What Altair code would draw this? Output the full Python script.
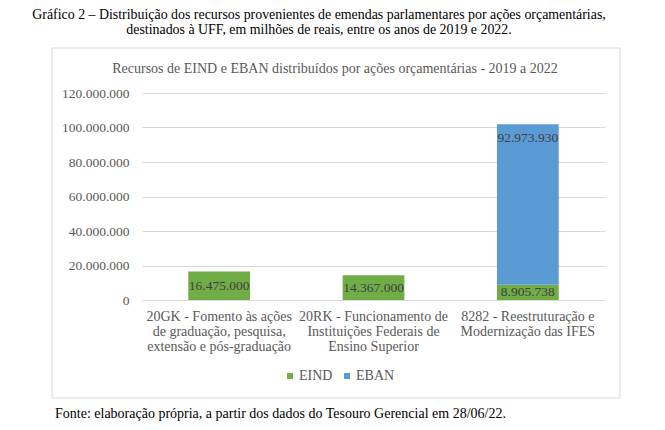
import altair as alt
import pandas as pd

FONT = "Liberation Serif"
GRAY = "#595959"
GRID = "#d9d9d9"

caption_lines = [
    "Gráfico 2 – Distribuição dos recursos provenientes de emendas parlamentares por ações orçamentárias,",
    "destinados à UFF, em milhões de reais, entre os anos de 2019 e 2022.",
]
chart_title = "Recursos de EIND e EBAN distribuídos por ações orçamentárias - 2019 a 2022"
footer = "Fonte: elaboração própria, a partir dos dados do Tesouro Gerencial em 28/06/22."

categories = [
    "20GK  - Fomento às ações|de graduação, pesquisa,|extensão e pós-graduação",
    "20RK - Funcionamento de|Instituições Federais de|Ensino Superior",
    "8282 - Reestruturação e|Modernização das IFES",
]
series = ["EIND", "EBAN"]
colors = ["#70AD47", "#5B9BD5"]
eind_values = [16475000, 14367000, 8905738]
eban_values = [0, 0, 92973930]
y_ticks = [0, 20000000, 40000000, 60000000, 80000000, 100000000, 120000000]

rows = []
for c, a, b in zip(categories, eind_values, eban_values):
    for i, (s, v) in enumerate(zip(series, [a, b])):
        if v > 0:
            rows.append({"cat": c, "series": s, "value": v, "ord": i})
df = pd.DataFrame(rows)

x_enc = alt.X(
    "cat:N",
    sort=categories,
    scale=alt.Scale(paddingInner=0.6, paddingOuter=0.3),
    axis=alt.Axis(
        title=None,
        labelExpr="split(datum.label, '|')",
        labelAngle=0,
        domain=False,
        ticks=False,
        labelPadding=9,
        labelFont=FONT,
        labelFontSize=14,
        labelColor=GRAY,
        labelLineHeight=15,
        labelLimit=300,
        labelOverlap=False,
    ),
)

y_scale = alt.Scale(domain=[0, 120000000], nice=False)
y_axis = alt.Axis(
    values=y_ticks,
    format=",d",
    title=None,
    domain=False,
    ticks=False,
    labelPadding=13,
    labelFont=FONT,
    labelFontSize=13.5,
    labelColor=GRAY,
    labelOverlap=False,
    gridColor=GRID,
    gridWidth=1,
)

bars = alt.Chart(df).mark_bar().encode(
    x=x_enc,
    y=alt.Y("value:Q", stack="zero", scale=y_scale, axis=y_axis),
    color=alt.Color(
        "series:N",
        sort=series,
        scale=alt.Scale(domain=series, range=colors),
        legend=alt.Legend(
            title=None,
            orient="none",
            legendX=141,
            legendY=276,
            direction="horizontal",
            symbolType="square",
            symbolSize=36,
            symbolStrokeWidth=0,
            labelFont=FONT,
            labelFontSize=14,
            labelColor=GRAY,
            labelOffset=2,
            columnPadding=7,
            padding=0,
        ),
    ),
    order=alt.Order("ord:Q", sort="ascending"),
)

stacked = alt.Chart(df).transform_stack(
    stack="value", groupby=["cat"], sort=[alt.SortField("ord")], as_=["v0", "v1"]
).transform_calculate(mid="(datum.v0 + datum.v1) / 2")

txt_style = dict(font=FONT, fontSize=13.5, color="#404040", baseline="middle")

eind_txt = stacked.transform_filter("datum.series == 'EIND'").mark_text(**txt_style).encode(
    x=x_enc,
    y=alt.Y("mid:Q", stack=None, scale=y_scale, axis=y_axis),
    text=alt.Text("value:Q", format=",d"),
)
eban_txt = stacked.transform_filter("datum.series == 'EBAN'").mark_text(dy=14, **txt_style).encode(
    x=x_enc,
    y=alt.Y("v1:Q", stack=None, scale=y_scale, axis=y_axis),
    text=alt.Text("value:Q", format=",d"),
)

one = pd.DataFrame({"k": [0]})
box = alt.Chart(one).mark_rect(fillOpacity=0, stroke=GRID, strokeWidth=1).encode(
    x=alt.value(-90), x2=alt.value(478), y=alt.value(-45), y2=alt.value(305)
)

cap_df = pd.DataFrame({"t": caption_lines, "yy": [-74, -59]})
caption = alt.Chart(cap_df).mark_text(
    font=FONT, fontSize=13.9, color="#000000", align="center", baseline="alphabetic"
).encode(text="t:N", x=alt.value(177), y=alt.Y("yy:Q", scale=None))

title_txt = alt.Chart(pd.DataFrame({"t": [chart_title]})).mark_text(
    font=FONT, fontSize=14, color=GRAY, align="center", baseline="alphabetic"
).encode(text="t:N", x=alt.value(193), y=alt.value(-20))

foot_txt = alt.Chart(pd.DataFrame({"t": [footer]})).mark_text(
    font=FONT, fontSize=14, color="#000000", align="left", baseline="alphabetic"
).encode(text="t:N", x=alt.value(-87), y=alt.value(325))

chart = alt.layer(box, bars, eind_txt, eban_txt, caption, title_txt, foot_txt).properties(
    width=463,
    height=207,
    autosize=alt.AutoSizeParams(type="none"),
    padding={"left": 134, "top": 85, "right": 50, "bottom": 122},
).configure(
    font=FONT,
    locale={"number": {"decimal": ",", "thousands": ".", "grouping": [3], "currency": ["R$", ""]}},
).configure_axis(
    labelFont=FONT
).configure_legend(
    labelFont=FONT
).configure_view(stroke=None)

chart.save("out.html", embed_options={"renderer": "svg", "actions": False})
